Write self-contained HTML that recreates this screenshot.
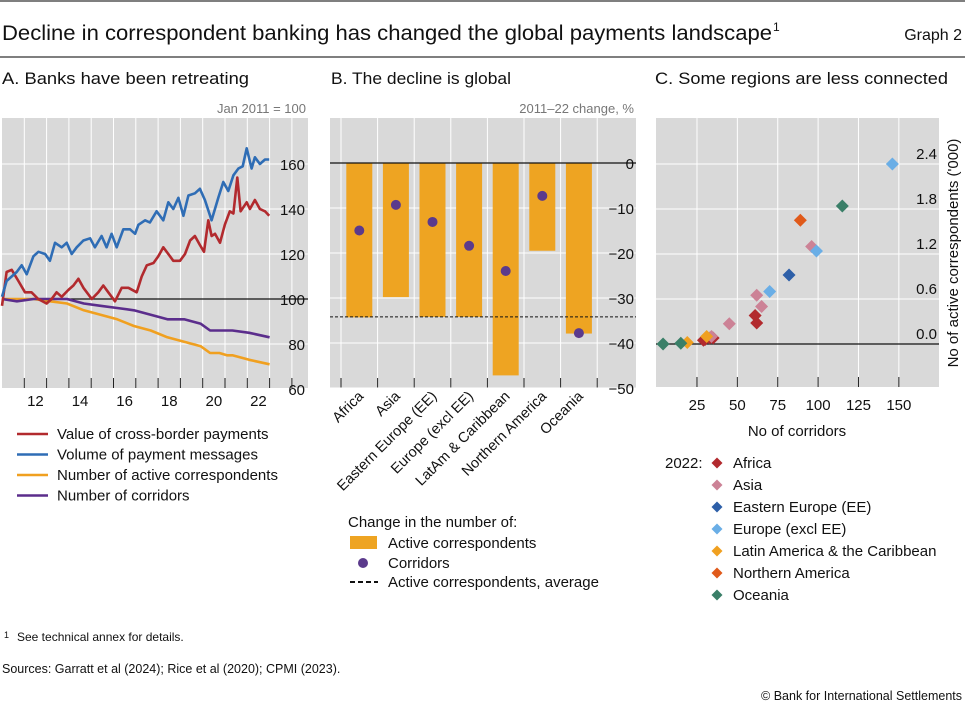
<!DOCTYPE html>
<html><head><meta charset="utf-8"><style>
body{margin:0;background:#fff;}
svg{display:block;font-family:"Liberation Sans",sans-serif;}
</style></head><body>
<svg id="chart" width="965" height="715" viewBox="0 0 965 715" xmlns="http://www.w3.org/2000/svg">
<line x1="0" y1="1" x2="965" y2="1" stroke="#555" stroke-width="1.5"/>
<text x="2" y="40" font-size="21" fill="#111" textLength="770" lengthAdjust="spacingAndGlyphs">Decline in correspondent banking has changed the global payments landscape</text>
<text x="773" y="31" font-size="12" fill="#111">1</text>
<text x="962" y="40" font-size="16" fill="#111" text-anchor="end">Graph 2</text>
<line x1="0" y1="57" x2="965" y2="57" stroke="#555" stroke-width="1.5"/>
<text x="2" y="84" font-size="16.5" fill="#111" textLength="247" lengthAdjust="spacingAndGlyphs">A. Banks have been retreating</text>
<text x="331" y="84" font-size="16.5" fill="#111" textLength="180" lengthAdjust="spacingAndGlyphs">B. The decline is global</text>
<text x="655" y="84" font-size="16.5" fill="#111" textLength="293" lengthAdjust="spacingAndGlyphs">C. Some regions are less connected</text>
<g id="pa"></g>
<g id="pb"></g>
<g id="pc"></g>
<text x="4" y="638" font-size="9" fill="#111">1</text>
<text x="17" y="641" font-size="12" fill="#111">See technical annex for details.</text>
<text x="2" y="673" font-size="12.5" fill="#111">Sources: Garratt et al (2024); Rice et al (2020); CPMI (2023).</text>
<text x="962" y="700" font-size="12.5" fill="#111" text-anchor="end">© Bank for International Settlements</text>
</svg>
<script>
const NS="http://www.w3.org/2000/svg";
// ---------- Panel A data ----------
const blueMonths=[0,2.5,7.9,10.6,13.3,16.9,19.6,23.2,25.8,28.5,32.1,34.8,37.5,40.2,43.8,47.4,50,53.6,56.3,59,61.7,65.3,68.9,71.6,73.4,77,79.6,83.2,86.8,89.5,92.2,94.9,97.6,100.3,103.8,106.5,109.2,112.8,116.4,119.1,121.8,124.5,127.2,129.5,131.7,134.3,136.1,138.8,141.5,143.8];
const blueValues=[101,108,112,115,111,119,121,120,117,125,123,125,120,123,126,127,123,128,123,129,123,131,131,129,133,135,134,139,135,143,140,145,137,146,147,149,144,135,145,152,148,155,158,159,167,158,163,160,162,162];
const redMonths=[0,2.5,5.2,8.8,12.4,15.9,19.5,24,26.7,29.4,32.1,35.7,38.4,41.1,43.8,48.3,51.8,54.5,57.2,60.8,64.4,68,72.5,75.2,77.9,81.5,84.1,86.8,89.5,92.2,95.8,98.5,101.2,103.8,106.5,108.7,111,112.8,114.6,117.3,119.9,122.6,124.5,126.6,128.4,131.7,133.4,136.1,138.8,141.5,143.8];
const redValues=[97,112,113,108,103,103,100,98,100,103,101,104,106,109,105,100,103,106,103,99,105,105,103,110,115,116,119,123,120,117,117,120,126,128,124,121,135,128,129,125,133,139,138,154,139,143,140,144,140,139,137];
const slowMonths=[0,8,17,26,35,44,53,62,71,80,89,98,107,112,117,121,124,133,144];
const purpleValues=[100,99,100,100,100,98,97,96,95,93,91,91,89,86,86,86,86,85,83];
const orangeValues=[100,100,100,99,98,95,93,91,88,86,83,81,79,76,76,75,75,73,71];
const yearLabels=["12","14","16","18","20","22"];
const aTicks=[60,80,100,120,140,160];

// ---------- Panel B data ----------
const regions=["Africa","Asia","Eastern Europe (EE)","Europe (excl EE)","LatAm & Caribbean","Northern America","Oceania"];
const correspondentsChange=[-34.3,-29.8,-34.2,-34.2,-47.2,-19.5,-37.9];
const corridorsChange=[-15,-9.3,-13.1,-18.4,-24,-7.3,-37.8];
const averageChange=[-34.2];
const bTicks=[0,-10,-20,-30,-40,-50];

// ---------- Panel C data ----------
const cRegions=["Africa","Asia","Eastern Europe (EE)","Europe (excl EE)","Latin America & the Caribbean","Northern America","Oceania"];
const cColors=["#b22a2e","#cc8296","#2d5fa8","#6aaee6","#f0a020","#e05a1a","#3a7f68"];
const corridorsX=[[29,33,35,61,62,30],[34,45,62,65,96],[82],[70,99,146],[19,31],[89],[4,15,115]];
const correspondentsY=[[0.05,0.08,0.08,0.38,0.28,0.06],[0.1,0.27,0.65,0.5,1.3],[0.92],[0.7,1.24,2.4],[0.02,0.1],[1.65],[0,0.01,1.84]];
const cxTicks=[25,50,75,100,125,150];
const cyTicks=[0,0.6,1.2,1.8,2.4];

function mk(parent,tag,attrs,text){const e=document.createElementNS(NS,tag);for(const k in attrs)e.setAttribute(k,attrs[k]);if(text!==undefined)e.textContent=text;parent.appendChild(e);return e;}

// ===== Panel A =====
(function(){
const g=document.getElementById('pa');
const L=2,R=308,T=118,B=388;
const xA=m=>2+m/12*22.3;
const yA=v=>299-(v-100)*2.25;
let e=mk(g,'rect',{x:L,y:T,width:R-L,height:B-T,fill:'#d9d9d9'});

for(let i=1;i<=13;i++){e=mk(g,'line',{x1:xA(i*12),x2:xA(i*12),y1:T,y2:B,stroke:'#fff','stroke-width':1});

e=mk(g,'line',{x1:xA(i*12),x2:xA(i*12),y1:B-10,y2:B,stroke:'#222','stroke-width':1});
}
aTicks.forEach(v=>{e=mk(g,'line',{x1:L,x2:R,y1:yA(v),y2:yA(v),stroke:'#fff','stroke-width':1});

e=mk(g,'text',{x:305,y:yA(v)+6,'font-size':15,'text-anchor':'end',fill:'#111'},String(v));
});
e=mk(g,'line',{x1:L,x2:R,y1:yA(100),y2:yA(100),stroke:'#111','stroke-width':1.2});

yearLabels.forEach((s,i)=>{const yr=12+i*2;e=mk(g,'text',{x:xA((yr-11)*12+6),y:406,'font-size':15,'text-anchor':'middle',fill:'#111'},s);
});
e=mk(g,'text',{x:306,y:113,'font-size':13,'text-anchor':'end',fill:'#777'},'Jan 2011 = 100');

function line(ms,vs,col,name){const d=ms.map((m,i)=>(i?'L':'M')+xA(m).toFixed(1)+','+yA(vs[i]).toFixed(1)).join('');
const p=mk(g,'path',{d:d,fill:'none',stroke:col,'stroke-width':2.6,'stroke-linejoin':'round'});
}
line(slowMonths,orangeValues,'#f0a020','series-active-correspondents');
line(slowMonths,purpleValues,'#5b2d8c','series-corridors');
line(redMonths,redValues,'#b22a2e','series-value-payments');
line(blueMonths,blueValues,'#2f6db5','series-volume-messages');
const leg=[['#b22a2e','Value of cross-border payments'],['#2f6db5','Volume of payment messages'],['#f0a020','Number of active correspondents'],['#5b2d8c','Number of corridors']];
leg.forEach((l,i)=>{const y=434+i*20.5;
e=mk(g,'line',{x1:17,x2:48,y1:y,y2:y,stroke:l[0],'stroke-width':2.6});

e=mk(g,'text',{x:57,y:y+5,'font-size':15,fill:'#111'},l[1]);
});
})();

// ===== Panel B =====
(function(){
const g=document.getElementById('pb');
const L=330,R=636,T=118,B=388;
const step=36.6,x0=341;
const xB=i=>x0+step*(i+0.5);
const yB=v=>163-v*4.5;
let e=mk(g,'rect',{x:L,y:T,width:R-L,height:B-T,fill:'#d9d9d9'});

for(let i=0;i<=regions.length;i++){const x=x0+step*i;
e=mk(g,'line',{x1:x,x2:x,y1:T,y2:B,stroke:'#fff'});

e=mk(g,'line',{x1:x,x2:x,y1:B-10,y2:B,stroke:'#222'});
}
bTicks.forEach(v=>{e=mk(g,'line',{x1:L,x2:R,y1:yB(v),y2:yB(v),stroke:'#fff'});

e=mk(g,'text',{x:634,y:yB(v)+6,'font-size':15,'text-anchor':'end',fill:'#111'},(v<0?'\u2212':'')+Math.abs(v));
});
correspondentsChange.forEach((v,i)=>{e=mk(g,'rect',{x:xB(i)-13,y:yB(0),width:26,height:yB(v)-yB(0),fill:'#eea422'});
});
e=mk(g,'line',{x1:L,x2:R,y1:yB(0),y2:yB(0),stroke:'#111','stroke-width':1.2});

e=mk(g,'line',{x1:L,x2:R,y1:yB(averageChange[0]),y2:yB(averageChange[0]),stroke:'#111','stroke-width':1,'stroke-dasharray':'3,2'});

corridorsChange.forEach((v,i)=>{e=mk(g,'circle',{cx:xB(i),cy:yB(v),r:5,fill:'#5b3a8c'});
});
regions.forEach((s,i)=>{e=mk(g,'text',{x:0,y:0,'font-size':14.5,'text-anchor':'end',fill:'#111',transform:'translate('+(xB(i)+5)+',397) rotate(-45)'},s);
});
e=mk(g,'text',{x:634,y:113,'font-size':13,'text-anchor':'end',fill:'#777'},'2011\u201322 change, %');

e=mk(g,'text',{x:348,y:527,'font-size':15,fill:'#111'},'Change in the number of:');

e=mk(g,'rect',{x:350,y:536,width:27,height:13,fill:'#eea422'});

e=mk(g,'text',{x:388,y:548,'font-size':15,fill:'#111'},'Active correspondents');

e=mk(g,'circle',{cx:363,cy:563,r:5,fill:'#5b3a8c'});

e=mk(g,'text',{x:388,y:568,'font-size':15,fill:'#111'},'Corridors');

e=mk(g,'line',{x1:350,x2:378,y1:582,y2:582,stroke:'#111','stroke-width':2,'stroke-dasharray':'5,3'});

e=mk(g,'text',{x:388,y:587,'font-size':15,fill:'#111'},'Active correspondents, average');

})();

// ===== Panel C =====
(function(){
const g=document.getElementById('pc');
const L=656,R=939,T=118,B=387;
const xC=v=>656.6+v*1.615;
const yC=v=>344-v*75;
let e=mk(g,'rect',{x:L,y:T,width:R-L,height:B-T,fill:'#d9d9d9'});

cxTicks.forEach(v=>{e=mk(g,'line',{x1:xC(v),x2:xC(v),y1:T,y2:B,stroke:'#fff'});

e=mk(g,'line',{x1:xC(v),x2:xC(v),y1:B-10,y2:B,stroke:'#222'});

e=mk(g,'text',{x:xC(v),y:410,'font-size':15,'text-anchor':'middle',fill:'#111'},String(v));
});
cyTicks.forEach(v=>{e=mk(g,'line',{x1:L,x2:R,y1:yC(v),y2:yC(v),stroke:'#fff'});

e=mk(g,'text',{x:937,y:yC(v)-5,'font-size':15,'text-anchor':'end',fill:'#111'},v.toFixed(1));
});
e=mk(g,'line',{x1:L,x2:R,y1:yC(0),y2:yC(0),stroke:'#111','stroke-width':1.2});

const dm=(x,y,s)=>'M'+x+','+(y-s)+'L'+(x+s)+','+y+'L'+x+','+(y+s)+'L'+(x-s)+','+y+'Z';
corridorsX.forEach((arr,k)=>arr.forEach((v,j)=>{e=mk(g,'path',{d:dm(xC(v),yC(correspondentsY[k][j]),6.5),fill:cColors[k]});
}));
e=mk(g,'text',{x:797,y:436,'font-size':15,'text-anchor':'middle',fill:'#111'},'No of corridors');

e=mk(g,'text',{x:0,y:0,'font-size':15,'text-anchor':'middle',fill:'#111',transform:'translate(958,253) rotate(-90)'},"No of active correspondents ('000)");

e=mk(g,'text',{x:665,y:468,'font-size':15,fill:'#111'},'2022:');

cRegions.forEach((s,k)=>{const y=463+k*22;
e=mk(g,'path',{d:dm(717,y,5.5),fill:cColors[k]});

e=mk(g,'text',{x:733,y:y+5,'font-size':15,fill:'#111'},s);
});
})();
</script>
</body></html>
